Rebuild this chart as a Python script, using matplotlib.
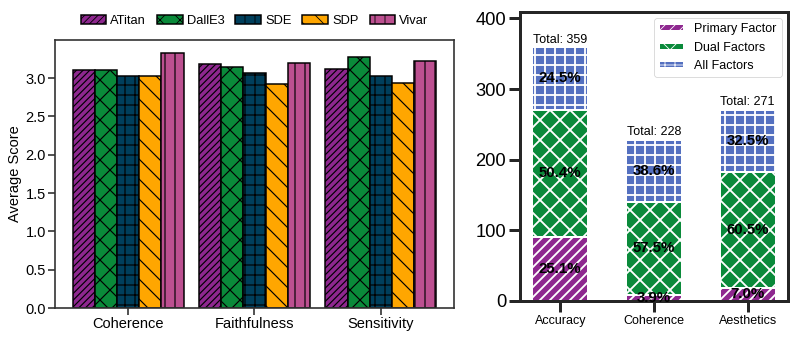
import numpy as np
import matplotlib
matplotlib.use('Agg')
import matplotlib.pyplot as plt

plt.rcParams['font.family'] = ['Liberation Sans', 'DejaVu Sans']

# left panel: average score per model and aspect
aspects = ['Coherence', 'Faithfulness', 'Sensitivity']
models = ['ATitan', 'DallE3', 'SDE', 'SDP', 'Vivar']
atitan = [3.11, 3.18, 3.12]
dalle3 = [3.10, 3.15, 3.27]
sde = [3.03, 3.07, 3.03]
sdp = [3.03, 2.92, 2.93]
vivar = [3.33, 3.20, 3.22]
scores = [atitan, dalle3, sde, sdp, vivar]

model_colors = ['#8e278f', '#0a8a3a', '#003f5c', '#ffa600', '#bc5090']
model_hatches = ['///', 'x', '+', '\\', '|']

# right panel: counts of factor types per category
categories = ['Accuracy', 'Coherence', 'Aesthetics']
primary = [90, 9, 19]
dual = [181, 131, 164]
all_factors = [88, 88, 88]
factor_names = ['Primary Factor', 'Dual Factors', 'All Factors']
factor_colors = ['#8e278f', '#0a8a3a', '#5470c0']
factor_hatches = ['//', 'x', '+']

fig = plt.figure(figsize=(797 / 60, 339 / 60), dpi=60)
ax1 = fig.add_axes([0.069, 0.0914, 0.5006, 0.7906])
ax2 = fig.add_axes([0.6524, 0.1121, 0.3363, 0.8525])

# ---- left: grouped bars
x = np.arange(len(aspects))
width = 0.175
with plt.rc_context({'hatch.linewidth': 1.4}):
    for i, vals in enumerate(scores):
        ax1.bar(x + (i - 2) * width, vals, width, color=model_colors[i],
                hatch=model_hatches[i], edgecolor='black', linewidth=1.8,
                label=models[i])

ax1.set_ylim(0, 3.496)
ax1.set_yticks(np.arange(0, 3.01, 0.5))
ax1.set_xticks(x)
ax1.set_xticklabels(aspects)
ax1.set_ylabel('Average Score', fontsize=17.5)
ax1.tick_params(axis='both', labelsize=17.5, length=8, width=2,
                color='#333333', pad=3)
for sp in ax1.spines.values():
    sp.set_linewidth(2)
    sp.set_color('#333333')
ax1.legend(loc='lower center', bbox_to_anchor=(0.5, 1.03), ncol=5,
           frameon=False, fontsize=15.5, columnspacing=0.85,
           handletextpad=0.3, borderaxespad=0)

# ---- right: stacked bars
xr = np.arange(len(categories))
totals = np.array(primary) + np.array(dual) + np.array(all_factors)
bottom = np.zeros(len(categories))
with plt.rc_context({'hatch.linewidth': 2.2}):
    for vals, name, col, hat in zip([primary, dual, all_factors], factor_names,
                                    factor_colors, factor_hatches):
        ax2.bar(xr, vals, 0.6, bottom=bottom, color=col, hatch=hat,
                edgecolor='white', linewidth=2.4, label=name)
        for j, v in enumerate(vals):
            ax2.text(xr[j], bottom[j] + v / 2, f'{v / totals[j] * 100:.1f}%',
                     ha='center', va='center', fontsize=18, fontweight='bold')
        bottom += np.array(vals)

for j, t in enumerate(totals):
    ax2.text(xr[j], t + 2, f'Total: {t}', ha='center', va='bottom', fontsize=15)

ax2.set_ylim(0, 409)
ax2.set_yticks([0, 100, 200, 300, 400])
ax2.set_xticks(xr)
ax2.set_xticklabels(categories)
ax2.tick_params(axis='y', labelsize=22, length=13, width=3.6, color='#262626')
ax2.tick_params(axis='x', labelsize=15, length=13, width=3.6, color='#262626')
for sp in ax2.spines.values():
    sp.set_linewidth(3.6)
    sp.set_color('#262626')
ax2.legend(loc='upper right', fontsize=15, edgecolor='#cccccc',
           handleheight=0.5)

fig.savefig('out.png', dpi=60)
